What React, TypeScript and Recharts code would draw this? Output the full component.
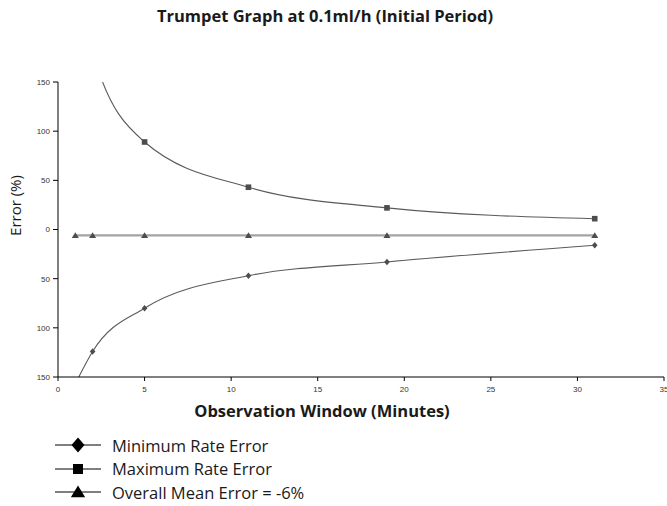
import React from 'react'
import { LineChart, Line, XAxis, YAxis, Legend, Label } from 'recharts'

const minutes = [1, 2, 5, 11, 19, 31]
const minRateError = [-157, -124, -80, -47, -33, -16]
const maxRateError = [300, 180, 89, 43, 22, 11]
const meanError = [-6, -6, -6, -6, -6, -6]

const xTicks = [0, 5, 10, 15, 20, 25, 30, 35]
const yTicks = [-150, -100, -50, 0, 50, 100, 150]

const seriesNames = {
  min: 'Minimum Rate Error',
  max: 'Maximum Rate Error',
  mean: 'Overall Mean Error = -6%',
}
const legendOrder = ['min', 'max', 'mean']

const data = minutes.map((m, i) => ({
  minutes: m,
  min: minRateError[i],
  max: maxRateError[i],
  mean: meanError[i],
}))

const FONT = '"Open Sans", "DejaVu Sans", sans-serif'
const TICK = { fontSize: 8, fill: '#333', fontFamily: '"Liberation Sans", Arial, sans-serif' }
const MARK = '#4d4d4d'

type Shape = 'diamond' | 'square' | 'triangle'

function marker(shape: Shape, cx: number, cy: number, r: number, fill: string, key?: string | number) {
  if (shape === 'square') return <rect key={key} x={cx - r} y={cy - r} width={r * 2} height={r * 2} fill={fill} />
  if (shape === 'diamond')
    return <path key={key} d={`M${cx},${cy - r * 1.15} L${cx + r},${cy} L${cx},${cy + r * 1.15} L${cx - r},${cy} Z`} fill={fill} />
  return <path key={key} d={`M${cx},${cy - r} L${cx + r * 1.1},${cy + r * 0.8} L${cx - r * 1.1},${cy + r * 0.8} Z`} fill={fill} />
}

const makeDot = (shape: Shape, r: number) => (props: any) => {
  const { cx, cy, index } = props
  if (cx == null || cy == null) return <g key={index} />
  return marker(shape, cx, cy, r, MARK, index)
}

const shapes: Record<string, Shape> = { min: 'diamond', max: 'square', mean: 'triangle' }

function LegendContent({ payload }: any) {
  const items = [...(payload || [])].sort(
    (a: any, b: any) => legendOrder.indexOf(a.dataKey) - legendOrder.indexOf(b.dataKey)
  )
  return (
    <div style={{ height: 70.5 }}>
      {items.map((entry: any) => (
        <div key={entry.dataKey} style={{ display: 'flex', alignItems: 'center', height: 23.5 }}>
          <svg width={46} height={18} style={{ display: 'block' }}>
            <line x1={0} x2={46} y1={9} y2={9} stroke="#000" strokeWidth={1} />
            {marker(shapes[entry.dataKey], 23, 9, shapes[entry.dataKey] === 'square' ? 5 : 6.5, '#000')}
          </svg>
          <span style={{ marginLeft: 11, fontSize: 16.5, fontFamily: FONT, color: '#1a1a1a', whiteSpace: 'nowrap' }}>
            {entry.value}
          </span>
        </div>
      ))}
    </div>
  )
}

export default function App() {
  return (
    <div style={{ position: 'absolute', left: 0, top: 0, width: 667, height: 506, background: '#fff' }}>
      <div
        style={{
          position: 'absolute', top: 6, left: 0, width: 650, textAlign: 'center',
          fontFamily: FONT, fontWeight: 700, fontSize: 16.5, lineHeight: '20px', color: '#1a1a1a',
        }}
      >
        Trumpet Graph at 0.1ml/h (Initial Period)
      </div>
      <LineChart width={667} height={506} data={data} margin={{ top: 82, right: 3, bottom: 28.5, left: 0 }}>
        <XAxis
          type="number" dataKey="minutes" domain={[0, 35]} ticks={xTicks} interval={0}
          height={30} tick={TICK} tickSize={4} tickMargin={5}
          axisLine={{ stroke: '#000' }} tickLine={{ stroke: '#000' }}
        >
          <Label
            content={({ viewBox }: any) => (
              <text
                x={viewBox.x + 264} y={viewBox.y + 40} textAnchor="middle"
                fontFamily={FONT} fontWeight={700} fontSize={16.5} fill="#1a1a1a"
              >
                Observation Window (Minutes)
              </text>
            )}
          />
        </XAxis>
        <YAxis
          type="number" domain={[-150, 150]} ticks={yTicks} allowDataOverflow
          width={58} tick={TICK} tickSize={5} tickMargin={3}
          tickFormatter={(v: number) => String(Math.abs(v))}
          axisLine={{ stroke: '#000' }} tickLine={{ stroke: '#000' }}
        >
          <Label
            content={({ viewBox }: any) => {
              const x = viewBox.x + 15
              const y = viewBox.y + viewBox.height / 2 - 24
              return (
                <text
                  x={x} y={y} transform={`rotate(-90, ${x}, ${y})`} textAnchor="middle" dominantBaseline="central"
                  fontFamily={FONT} fontSize={15} fill="#1a1a1a"
                >
                  Error (%)
                </text>
              )
            }}
          />
        </YAxis>
        <Legend
          content={<LegendContent />}
          wrapperStyle={{ left: 55, top: 433.25, bottom: 'auto', width: 320, height: 70.5 }}
        />
        <Line
          dataKey="mean" name={seriesNames.mean} type="linear" stroke="#a3a3a3" strokeWidth={2.2}
          dot={makeDot('triangle', 3.2)} activeDot={false} isAnimationActive={false}
        />
        <Line
          dataKey="max" name={seriesNames.max} type="monotone" stroke="#5a5a5a" strokeWidth={1.1}
          dot={makeDot('square', 2.8)} activeDot={false} isAnimationActive={false}
        />
        <Line
          dataKey="min" name={seriesNames.min} type="monotone" stroke="#5a5a5a" strokeWidth={1.1}
          dot={makeDot('diamond', 2.8)} activeDot={false} isAnimationActive={false}
        />
      </LineChart>
    </div>
  )
}
